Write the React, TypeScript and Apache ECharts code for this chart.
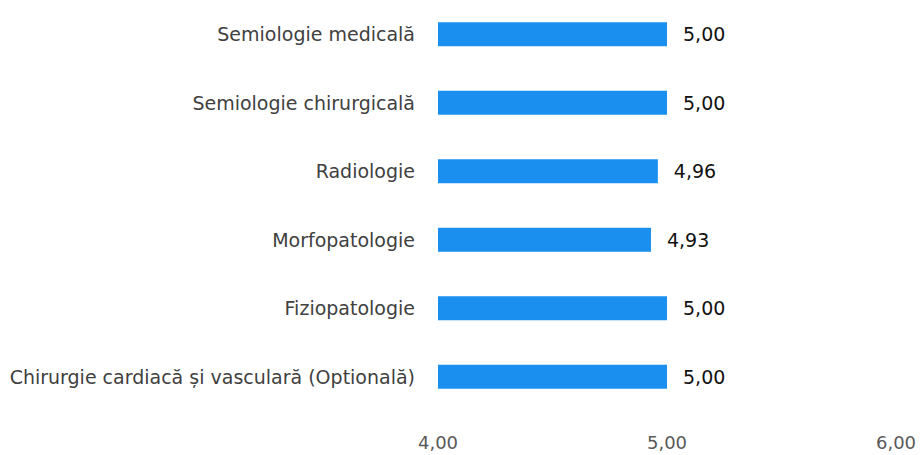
import React, { useEffect, useRef } from "react";
import * as echarts from "echarts";

const categories = [
  "Semiologie medicală",
  "Semiologie chirurgicală",
  "Radiologie",
  "Morfopatologie",
  "Fiziopatologie",
  "Chirurgie cardiacă și vasculară (Optională)",
];
const values = [5.0, 5.0, 4.96, 4.93, 5.0, 5.0];
const axisMin = 4;
const axisMax = 6;
const axisStep = 1;

const fmt = (v: number) => v.toFixed(2).replace(".", ",");
const FONT = "'DejaVu Sans', sans-serif";

export default function App() {
  const ref = useRef<HTMLDivElement>(null);
  useEffect(() => {
    if (!ref.current) return;
    const chart = echarts.init(ref.current, undefined, { renderer: "svg" });
    chart.setOption({
      animation: false,
      backgroundColor: "#ffffff",
      grid: { left: 438, right: 26, top: 0, bottom: 44, containLabel: false },
      xAxis: {
        type: "value",
        min: axisMin,
        max: axisMax,
        interval: axisStep,
        axisLine: { show: false },
        axisTick: { show: false },
        splitLine: { show: false },
        axisLabel: {
          formatter: (v: number) => fmt(v),
          color: "#595959",
          fontSize: 18,
          fontFamily: FONT,
          margin: 22,
        },
      },
      yAxis: {
        type: "category",
        inverse: true,
        data: categories,
        axisLine: { show: false },
        axisTick: { show: false },
        splitLine: { show: false },
        axisLabel: {
          color: "#404040",
          fontSize: 19,
          fontFamily: FONT,
          margin: 23,
        },
      },
      series: [
        {
          type: "bar",
          data: values,
          barWidth: 24,
          itemStyle: { color: "#1a8ff0" },
          label: {
            show: true,
            position: "right",
            distance: 16,
            formatter: (p: any) => fmt(p.value),
            color: "#111111",
            fontSize: 19,
            fontFamily: FONT,
          },
        },
      ],
    });
    return () => chart.dispose();
  }, []);
  return <div ref={ref} style={{ width: 922, height: 455, position: "absolute", left: 0, top: 0 }} />;
}
